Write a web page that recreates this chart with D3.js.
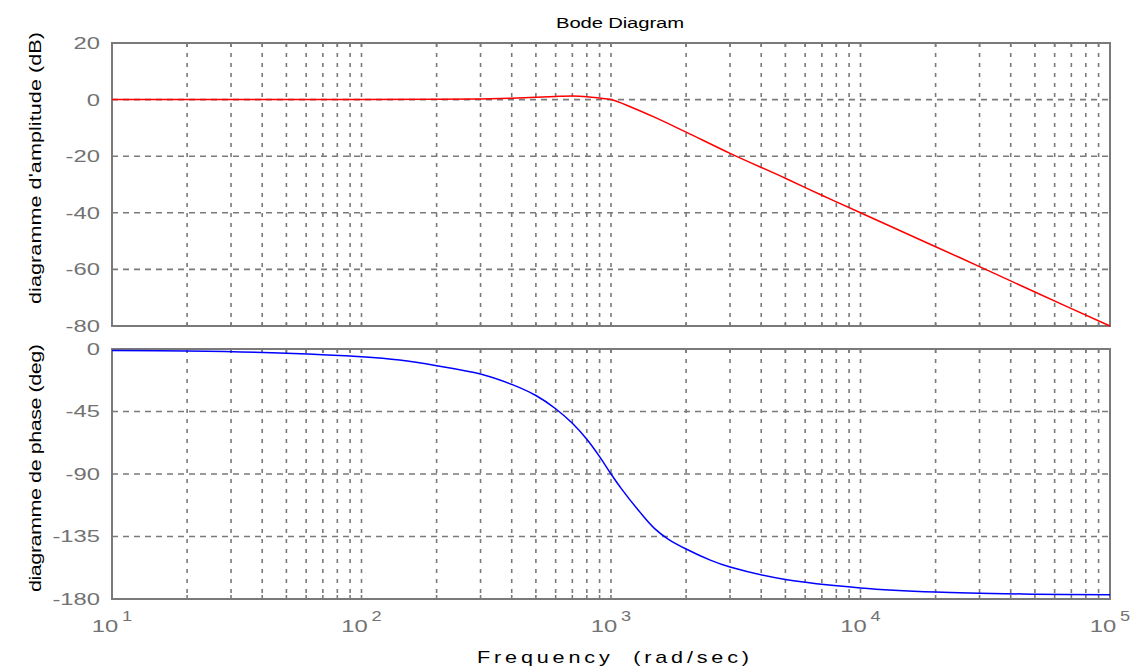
<!DOCTYPE html>
<html>
<head>
<meta charset="utf-8">
<script src="https://cdn.jsdelivr.net/npm/d3@7"></script>
<style>
  html, body { margin: 0; padding: 0; background: #fff; }
  svg { display: block; font-family: "Liberation Sans", Arial, sans-serif; }
</style>
</head>
<body>
<div id="chart"></div>
<script>
// frequencies (rad/sec)
const magFreq = [10, 100, 200, 300, 400, 500, 600, 700, 800, 900, 1000, 1200, 1500, 2000, 3000, 5000, 7000, 10000, 20000, 30000, 50000, 100000];
const magDb   = [0, 0.05, 0.1, 0.25, 0.5, 0.8, 1.1, 1.25, 1.05, 0.55, 0, -2.6, -6.3, -11.5, -19, -27.8, -33.8, -40, -52, -59, -68, -80];

const phaseFreq = [10, 20, 50, 100, 142, 200, 300, 400, 500, 600, 700, 800, 900, 1000, 1100, 1300, 1500, 1700, 2000, 2500, 3000, 5000, 10000, 20000, 50000, 100000];
const phaseDeg  = [-1.1, -1.5, -3, -5.6, -8, -12, -18, -25.5, -33.5, -43, -53.5, -65, -77.5, -90, -100.5, -117, -129.5, -137, -144, -152, -157, -166, -172, -175, -176.5, -177];

const magTicks = [20, 0, -20, -40, -60, -80];
const phaseTicks = [0, -45, -90, -135, -180];
const decades = [1, 2, 3, 4, 5];

const W = 1136, H = 668;
const left = 112, right = 1110;
const magTop = 43, magBot = 326;
const phTop = 349, phBot = 599;
const gray = "#7a7a7a";
const tickGray = "#727272";
const stretch = 1.4; // tick glyphs are drawn wide in the original

const svg = d3.select("#chart").append("svg")
  .attr("width", W).attr("height", H);

const x = d3.scaleLog().domain([10, 100000]).range([left, right]);
const yMag = d3.scaleLinear().domain([-80, 20]).range([magBot, magTop]);
const yPh = d3.scaleLinear().domain([-180, 0]).range([phBot, phTop]);

// minor grid positions: 2..9 x 10^k plus decades
const gridFreqs = [];
for (let k = 1; k < 5; k++) {
  for (let m = 1; m <= 9; m++) {
    const f = m * Math.pow(10, k);
    if (f > 10) gridFreqs.push(f);
  }
}

// label text spread to a target width: glyphs wider, rest as letter spacing
const wideText = (txt, cx, cy, size, target, rot = 0, color = "#000") => {
  const sx = 1.35;
  const g = svg.append("g")
    .attr("transform", `translate(${cx},${cy}) rotate(${rot}) scale(${sx},1)`);
  const len = target / sx;
  g.append("text")
    .attr("x", -len / 2)
    .attr("text-anchor", "start")
    .attr("fill", color)
    .style("font-size", size + "px")
    .attr("xml:space", "preserve")
    .attr("textLength", len)
    .attr("lengthAdjust", "spacing")
    .text(txt);
};

const panel = (y, ticks, top, bot) => {
  const g = svg.append("g");
  // vertical grid
  g.selectAll("line.v").data(gridFreqs).enter()
    .append("line")
    .attr("x1", d => x(d)).attr("x2", d => x(d))
    .attr("y1", top).attr("y2", bot)
    .attr("stroke", gray).attr("stroke-width", 1.6)
    .attr("stroke-dasharray", "4,6");
  // horizontal grid
  g.selectAll("line.h").data(ticks).enter()
    .append("line")
    .attr("x1", left).attr("x2", right)
    .attr("y1", d => y(d)).attr("y2", d => y(d))
    .attr("stroke", gray).attr("stroke-width", 1.6)
    .attr("stroke-dasharray", "6,5");
  // small inward ticks on top/bottom edges
  [top, bot].forEach(yy => {
    g.selectAll(null).data(gridFreqs).enter()
      .append("line")
      .attr("x1", d => x(d)).attr("x2", d => x(d))
      .attr("y1", yy).attr("y2", yy === top ? yy + 4 : yy - 4)
      .attr("stroke", gray).attr("stroke-width", 1.6);
  });
  // y axis labels (plain hyphen minus like the original)
  const ax = g.append("g")
    .attr("transform", `translate(${left - 12},0)`)
    .call(d3.axisLeft(y).tickValues(ticks).tickSize(0).tickPadding(0).tickFormat(d => String(d)));
  ax.select(".domain").remove();
  ax.selectAll("text")
    .attr("x", 0)
    .attr("fill", tickGray)
    .attr("transform", `scale(${stretch},1)`)
    .style("font-size", "17px")
    .style("font-family", "'Liberation Sans', Arial, sans-serif");
  // frame
  g.append("rect")
    .attr("x", left).attr("y", top)
    .attr("width", right - left).attr("height", bot - top)
    .attr("fill", "none").attr("stroke", gray).attr("stroke-width", 2);
  return g;
};

panel(yMag, magTicks, magTop, magBot);
panel(yPh, phaseTicks, phTop, phBot);

// curves
const magPts = magFreq.map((f, i) => [x(f), yMag(magDb[i])]);
const phPts = phaseFreq.map((f, i) => [x(f), yPh(phaseDeg[i])]);
const line = d3.line().curve(d3.curveCatmullRom.alpha(0.5));

svg.append("path").attr("d", line(magPts))
  .attr("fill", "none").attr("stroke", "#ff0000").attr("stroke-width", 1.5);
svg.append("path").attr("d", line(phPts))
  .attr("fill", "none").attr("stroke", "#0000ff").attr("stroke-width", 1.5);

// x tick labels 10^k
decades.forEach(k => {
  const px = x(Math.pow(10, k));
  svg.append("g").attr("transform", `translate(${px - 7},632) scale(${stretch},1)`)
    .append("text")
    .attr("text-anchor", "middle")
    .attr("fill", tickGray)
    .style("font-size", "17px")
    .text("10");
  svg.append("g").attr("transform", `translate(${px + 10},621) scale(1.3,1)`)
    .append("text")
    .attr("text-anchor", "start")
    .attr("fill", tickGray)
    .style("font-size", "14px")
    .text(k);
});

// titles
wideText("Bode Diagram", 620, 28, 15, 128);
wideText("Frequency  (rad/sec)", 613, 663, 16, 272);
wideText("diagramme d'amplitude (dB)", 41, 168, 16, 272, -90);
wideText("diagramme de phase (deg)", 41, 468, 16, 248, -90);
</script>
</body>
</html>
